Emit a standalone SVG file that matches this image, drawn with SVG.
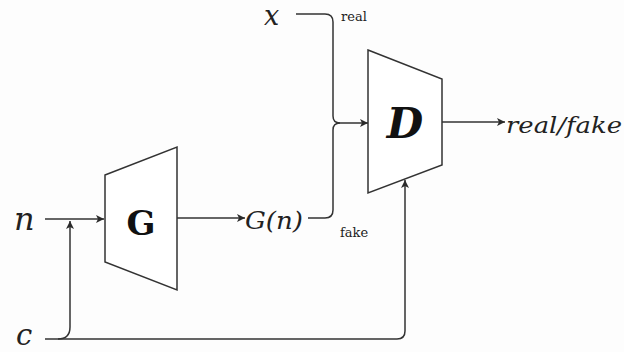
<svg xmlns="http://www.w3.org/2000/svg" width="624" height="352" viewBox="0 0 624 352">
<defs>
<marker id="arr" viewBox="0 0 10 10" refX="10" refY="5" markerWidth="9" markerHeight="8" markerUnits="userSpaceOnUse" orient="auto">
<path d="M0,0 L10,5 L0,10 L2.5,5 z" fill="#2a2a2a"/>
</marker>
<style>
.ln{fill:none;stroke:#333;stroke-width:1.5}
.blk{fill:#fff;stroke:#333;stroke-width:1.5}
.m{font-family:"DejaVu Serif","Liberation Serif",serif;font-style:italic;fill:#222}
.s{font-family:"DejaVu Serif","Liberation Serif",serif;fill:#222;font-size:13px}
.big{font-family:"DejaVu Serif","Liberation Serif",serif;font-weight:bold;fill:#111;text-anchor:middle}
</style>
</defs>
<rect width="624" height="352" fill="#fdfdfd"/>
<g id="connectors">
<path class="ln" d="M45,219 H104" marker-end="url(#arr)"/>
<path class="ln" d="M58,339 Q70,339 70,327 V221" marker-end="url(#arr)"/>
<path class="ln" d="M45,339 H397 Q405,339 405,331 V180" marker-end="url(#arr)"/>
<path class="ln" d="M177,218 H245" marker-end="url(#arr)"/>
<path class="ln" d="M308,218 H325 Q333,218 333,210 V130 Q333,123 340,123 H368" marker-end="url(#arr)"/>
<path class="ln" d="M296,14 H325 Q333,14 333,22 V116 Q333,123 340,123"/>
<path class="ln" d="M442,122 H505" marker-end="url(#arr)"/>
</g>
<g id="G">
<polygon class="blk" points="105,175 177,147 177,290 105,262"/>
<text class="big" x="141" y="235" font-size="34">G</text>
</g>
<g id="D">
<polygon class="blk" points="368,50 442,79 442,165 368,193"/>
<text class="big" x="405" y="138" font-size="42" font-style="italic">D</text>
</g>
<g id="x"><text class="m" x="264" y="25" font-size="27">x</text></g>
<g id="n"><text class="m" x="14" y="230" font-size="32">n</text></g>
<g id="c"><text class="m" x="16" y="345" font-size="29">c</text></g>
<g id="Gn"><text class="m" x="245" y="229" font-size="25" textLength="58" lengthAdjust="spacingAndGlyphs">G(n)</text></g>
<g id="out"><text class="m" x="506" y="133" font-size="23" textLength="116" lengthAdjust="spacingAndGlyphs">real/fake</text></g>
<g id="labels">
<text class="s" x="341" y="21">real</text>
<text class="s" x="340" y="237">fake</text>
</g>
</svg>
